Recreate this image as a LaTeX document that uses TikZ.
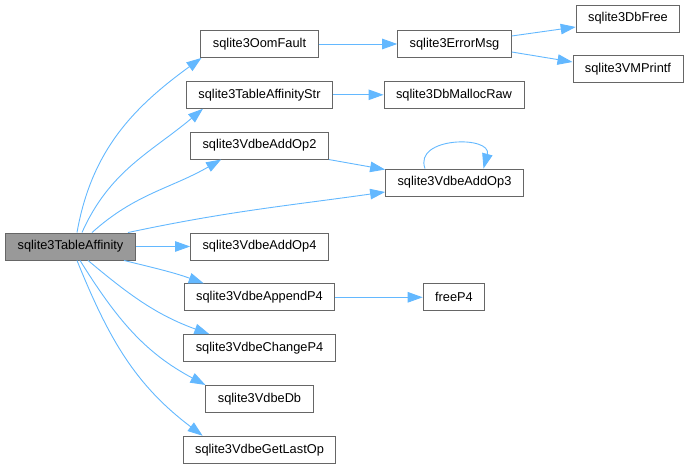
\documentclass[tikz,border=0pt]{standalone}
\usepackage{fontspec}
\setmainfont{Liberation Sans}
\usetikzlibrary{arrows.meta}

\begin{document}
\begin{tikzpicture}[x=1pt, y=1pt, node distance={50.8pt},
    fn/.style = {draw=black!60, line width=0.9pt, fill=white, minimum height=27pt, inner xsep=12pt, inner ysep=0pt, font=\fontsize{12.8}{15}\selectfont},
    top/.style = {fn, fill=black!40},
    call/.style = {-{Triangle[length=15pt, width=10.5pt]}, draw={rgb,255:red,99;green,184;blue,255}, line width=0.9pt}]
            \useasboundingbox (0,0) rectangle (689,468);

            \node[top] (1) at (70.5,221.5) {sqlite3TableAffinity};
            \node[fn] (2) at (259.5,424) {sqlite3OomFault};
            \node[fn] (3) [below of=2] {sqlite3TableAffinityStr};
            \node[fn] (4) [below of=3] {sqlite3VdbeAddOp2};
            \node[fn] (5) at (454.5,285.5) {sqlite3VdbeAddOp3};
            \node[fn] (6) at (259.5,221.5) {sqlite3VdbeAddOp4};
            \node[fn] (7) [below of=6] {sqlite3VdbeAppendP4};
            \node[fn] (8) [below of=7] {sqlite3VdbeChangeP4};
            \node[fn] (9) [below of=8] {sqlite3VdbeDb};
            \node[fn] (10) [below of=9] {sqlite3VdbeGetLastOp};
            \node[fn] (11) [node distance=195pt, right of=2] {sqlite3ErrorMsg};
            \node[fn] (12) [node distance=194.5pt, right of=3] {sqlite3DbMallocRaw};
            \node[fn] (13) at (628,449.5) {sqlite3DbFree};
            \node[fn] (14) at (628,399) {sqlite3VMPrintf};
            \node[fn] (15) [node distance=194.5pt, right of=7] {freeP4};

            \path ([xshift=6.5pt]1.north) edge[call, out=80, in=-144] ([xshift=1pt]2.south west);
            \path ([xshift=11.5pt]1.north) edge[call, out=66, in=-140] ([xshift=17pt]3.south west);
            \path ([xshift=21.5pt]1.north) edge[call, out=42, in=-150] ([xshift=31pt]4.south west);
            \path ([xshift=57.5pt]1.north) edge[call, out=12, in=-172] ([yshift=-9.5pt]5.west);

            \path (1) edge[call] (6);
            \path ([xshift=53.5pt]1.south) edge[call, out=-14, in=160] ([xshift=20pt]7.north west);
            \path ([xshift=17.5pt]1.south) edge[call, out=-40, in=160] ([xshift=26pt]8.north west);
            \path ([xshift=9.5pt]1.south) edge[call, out=-58, in=152] (9.north west);
            \path ([xshift=6.5pt]1.south) edge[call, out=-68, in=143] ([xshift=20pt]10.north west);

            \path (4.south east) edge[call] ([yshift=-1pt]5.north west);

            \path ([xshift=-29.5pt]5.north) edge[call, out=110, in=75, looseness=1.5] ([xshift=29pt]5.north);

            \path (2) edge[call] (11);
            \path (3) edge[call] (12);
            \path (7) edge[call] (15);

            \path ([yshift=8pt]11.east) edge[call] ([yshift=-8.5pt]13.west);
            \path ([yshift=-8pt]11.east) edge[call] ([yshift=7pt]14.west);
        \end{tikzpicture}
\end{document}
